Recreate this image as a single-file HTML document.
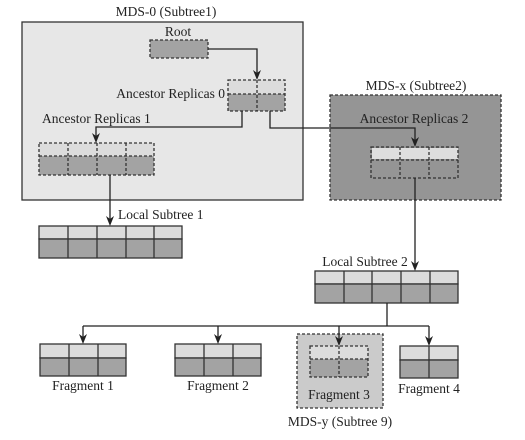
<!DOCTYPE html>
<html><head><meta charset="utf-8"><style>
html,body{margin:0;padding:0;background:#fff;}
svg{display:block;}
text{font-family:"Liberation Serif",serif;font-size:13.5px;fill:#222;}
</style></head><body>
<svg width="525" height="440" viewBox="0 0 525 440" xmlns="http://www.w3.org/2000/svg">
<g stroke="#333" stroke-width="1.3">
<rect x="22" y="22" width="281" height="178" fill="#e7e7e7"/>
<rect x="330" y="95" width="171" height="105" fill="#959595" stroke-dasharray="3,2"/>
<rect x="297" y="334" width="86" height="74" fill="#cbcbcb" stroke-dasharray="3,2"/>

<rect x="150" y="40" width="58" height="18" fill="#a3a3a3" stroke-dasharray="3,2"/>
<rect x="228" y="80" width="57" height="14" fill="#dcdcdc" stroke="none"/>
<rect x="228" y="94" width="57" height="17" fill="#a3a3a3" stroke="none"/>
<g stroke-dasharray="3,2" fill="none"><rect x="228" y="80" width="57" height="31"/><line x1="228" y1="94" x2="285" y2="94"/><line x1="257" y1="80" x2="257" y2="111"/></g>
<rect x="39" y="143" width="115" height="13" fill="#dcdcdc" stroke="none"/>
<rect x="39" y="156" width="115" height="19" fill="#a3a3a3" stroke="none"/>
<g stroke-dasharray="3,2" fill="none"><rect x="39" y="143" width="115" height="32"/><line x1="39" y1="156" x2="154" y2="156"/><line x1="68" y1="143" x2="68" y2="175"/><line x1="97" y1="143" x2="97" y2="175"/><line x1="126" y1="143" x2="126" y2="175"/></g>
<rect x="372" y="148" width="86" height="11" fill="#dedede" stroke="none"/>
<g stroke-dasharray="3,2" fill="none"><rect x="371" y="147" width="87" height="31"/><line x1="371" y1="160" x2="458" y2="160"/><line x1="400" y1="147" x2="400" y2="178"/><line x1="429" y1="147" x2="429" y2="178"/></g>
<rect x="39" y="226" width="143" height="13" fill="#dcdcdc"/>
<rect x="39" y="239" width="143" height="19" fill="#a3a3a3"/>
<g fill="none"><line x1="68" y1="226" x2="68" y2="258"/><line x1="97" y1="226" x2="97" y2="258"/><line x1="126" y1="226" x2="126" y2="258"/><line x1="154" y1="226" x2="154" y2="258"/></g>
<rect x="315" y="271" width="143" height="13" fill="#dcdcdc"/>
<rect x="315" y="284" width="143" height="19" fill="#a3a3a3"/>
<g fill="none"><line x1="344" y1="271" x2="344" y2="303"/><line x1="372" y1="271" x2="372" y2="303"/><line x1="401" y1="271" x2="401" y2="303"/><line x1="430" y1="271" x2="430" y2="303"/></g>
<rect x="40" y="344" width="86" height="14" fill="#dcdcdc"/>
<rect x="40" y="358" width="86" height="18" fill="#a3a3a3"/>
<line x1="69" y1="344" x2="69" y2="376"/><line x1="98" y1="344" x2="98" y2="376"/>
<rect x="175" y="344" width="86" height="14" fill="#dcdcdc"/>
<rect x="175" y="358" width="86" height="18" fill="#a3a3a3"/>
<line x1="204" y1="344" x2="204" y2="376"/><line x1="233" y1="344" x2="233" y2="376"/>
<rect x="310" y="346" width="58" height="13" fill="#dcdcdc" stroke="none"/>
<rect x="310" y="359" width="58" height="18" fill="#a3a3a3" stroke="none"/>
<g stroke-dasharray="3,2" fill="none"><rect x="310" y="346" width="58" height="31"/><line x1="310" y1="359" x2="368" y2="359"/><line x1="339" y1="346" x2="339" y2="377"/></g>
<rect x="400" y="346" width="58" height="14" fill="#dcdcdc"/>
<rect x="400" y="360" width="58" height="18" fill="#a3a3a3"/>
<line x1="429" y1="346" x2="429" y2="378"/>

<g fill="none" stroke="#222" stroke-width="1.3">
<polyline points="208,49 257,49 257,74"/>
<polyline points="242,111 242,127 96,127 96,137"/>
<polyline points="270,111 270,128 415,128 415,141"/>
<polyline points="110,175 110,220"/>
<polyline points="415,178 415,265"/>
<polyline points="387,303 387,326"/>
<polyline points="83,326 429,326"/>
<polyline points="83,326 83,338"/>
<polyline points="218,326 218,338"/>
<polyline points="339,326 339,340"/>
<polyline points="429,326 429,340"/>
</g>
</g>
<g fill="#222">
<path d="M253,70 L257,80 L261,70 L257,73 Z"/>
<path d="M92,133 L96,143 L100,133 L96,136 Z"/>
<path d="M411,137 L415,147 L419,137 L415,140 Z"/>
<path d="M106,216 L110,226 L114,216 L110,219 Z"/>
<path d="M411,261 L415,271 L419,261 L415,264 Z"/>
<path d="M79,334 L83,344 L87,334 L83,337 Z"/>
<path d="M214,334 L218,344 L222,334 L218,337 Z"/>
<path d="M335,336 L339,346 L343,336 L339,339 Z"/>
<path d="M425,336 L429,346 L433,336 L429,339 Z"/>
</g>

<g>
<text x="166" y="16" text-anchor="middle">MDS-0 (Subtree1)</text>
<text x="178" y="36" text-anchor="middle">Root</text>
<text x="225" y="98" text-anchor="end">Ancestor Replicas 0</text>
<text x="42" y="123">Ancestor Replicas 1</text>
<text x="416" y="90" text-anchor="middle">MDS-x (Subtree2)</text>
<text x="414" y="123" text-anchor="middle">Ancestor Replicas 2</text>
<text x="118" y="219">Local Subtree 1</text>
<text x="365" y="266" text-anchor="middle">Local Subtree 2</text>
<text x="83" y="390" text-anchor="middle">Fragment 1</text>
<text x="218" y="390" text-anchor="middle">Fragment 2</text>
<text x="339" y="399" text-anchor="middle">Fragment 3</text>
<text x="429" y="393" text-anchor="middle">Fragment 4</text>
<text x="340" y="426" text-anchor="middle">MDS-y (Subtree 9)</text>
</g>
</svg>
</body></html>
